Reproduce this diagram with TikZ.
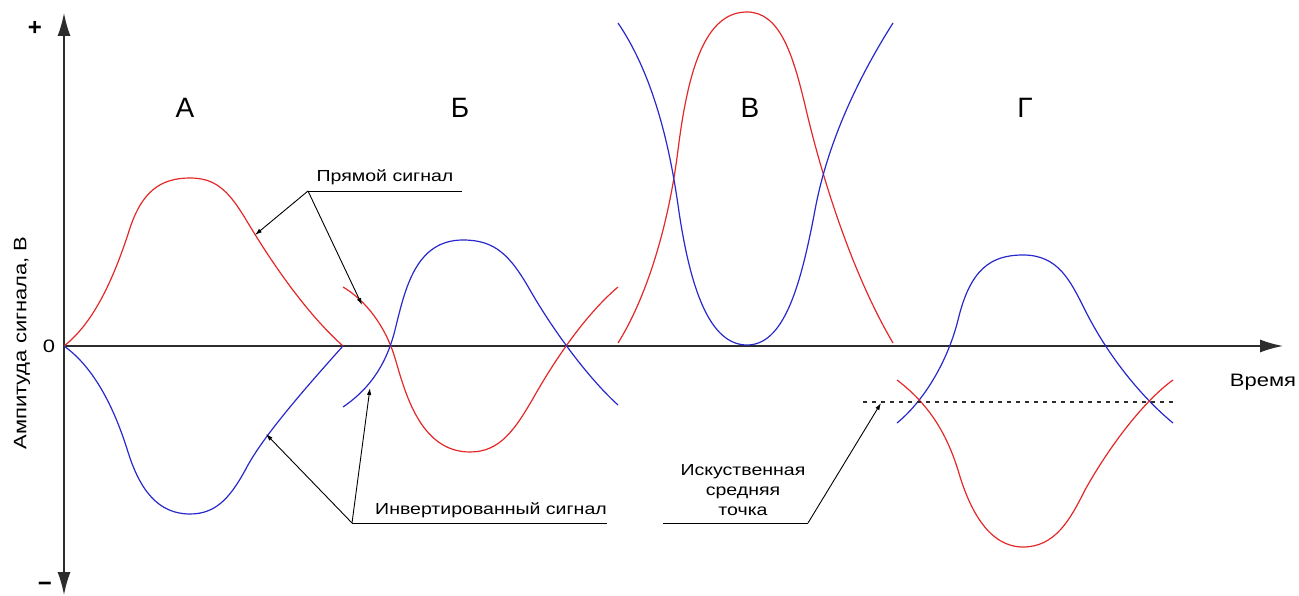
\documentclass[tikz,border=0pt]{standalone}
\usepackage{fontspec}
\setmainfont{Liberation Sans}
\newfontfamily\widesans[FakeStretch=1.22]{Liberation Sans}
\usetikzlibrary{arrows.meta}
\definecolor{sigred}{RGB}{228,40,40}
\definecolor{sigblue}{RGB}{40,40,205}
\definecolor{axgray}{RGB}{45,45,45}
\tikzset{
  axis/.style={line width=1.5pt,axgray},
  redsig/.style={line width=1.2pt,sigred},
  bluesig/.style={line width=1.2pt,sigblue},
  leader/.style={line width=0.9pt,black},
  pointer/.style={leader,-{Latex[length=7pt,width=4.5pt]}},
  lbl/.style={font=\widesans\fontsize{16}{20}\selectfont,inner sep=0pt},
  axlbl/.style={font=\widesans\fontsize{18}{20}\selectfont,inner sep=0pt},
  sign/.style={font=\bfseries\fontsize{24}{24}\selectfont,inner sep=0pt},
  sect/.style={font=\fontsize{28}{30}\selectfont,inner sep=0pt}
}
\begin{document}
\begin{tikzpicture}[x=1pt,y=-1pt]
  \useasboundingbox (0,0) rectangle (1299,596);
  % axes
  \coordinate (O) at (64,346);
  \coordinate (Ytop) at (64,13);
  \coordinate (Ybot) at (64,595);
  \coordinate (Xend) at (1283,346);
  \draw[axis,-{Latex[length=23pt,width=13pt]}] (O)--(Ytop);
  \draw[axis,-{Latex[length=23pt,width=13pt]}] (O)--(Ybot);
  \draw[axis,-{Latex[length=23pt,width=13pt]}] (O)--(Xend);
  \node[sign] (plus) at (35,28) {+};
  \node[sign] (minus) at (45,587) {−};
  \node[axlbl] (zero) at (49,346) {0};
  \node[axlbl,rotate=90] (ylab) at (22,343) {Ампитуда сигнала, В};
  \node[axlbl] (xlab) at (1263,382) {Время};
  % sections
  \node[sect] (A) at (185,108) {А};
  \node[sect] (B) at (460,108) {Б};
  \node[sect] (V) at (750,108) {В};
  \node[sect] (G) at (1025,108) {Г};
  % section A
  \draw[redsig] (64,346) .. controls (95,322) and (115,275) .. (130,228)
    .. controls (142,192) and (160,178) .. (190,178)
    .. controls (215,178) and (228,190) .. (245,218)
    .. controls (270,260) and (305,312) .. (343,346);
  \draw[bluesig] (64,346) .. controls (95,368) and (115,410) .. (128,452)
    .. controls (140,490) and (158,514) .. (190,514)
    .. controls (218,514) and (232,495) .. (248,465)
    .. controls (262,440) and (290,405) .. (343,346);
  % section B
  \draw[redsig] (343,287) .. controls (365,300) and (385,325) .. (395,358)
    .. controls (405,392) and (420,452) .. (470,452)
    .. controls (500,452) and (515,430) .. (535,395)
    .. controls (555,360) and (585,315) .. (618,287);
  \draw[bluesig] (343,407) .. controls (365,392) and (385,370) .. (395,330)
    .. controls (405,290) and (415,240) .. (463,240)
    .. controls (495,240) and (510,255) .. (530,290)
    .. controls (550,325) and (585,375) .. (618,405);
  % section V
  \draw[redsig] (618,343) .. controls (645,300) and (668,230) .. (678,150)
    .. controls (688,70) and (705,12) .. (747,12)
    .. controls (780,12) and (793,55) .. (805,105)
    .. controls (820,170) and (850,270) .. (893,343);
  \draw[bluesig] (618,23) .. controls (650,70) and (668,135) .. (678,205)
    .. controls (690,290) and (710,345) .. (747,345)
    .. controls (783,345) and (800,290) .. (815,210)
    .. controls (828,140) and (860,75) .. (893,23);
  % section G
  \draw[bluesig] (897,423) .. controls (925,400) and (948,360) .. (958,320)
    .. controls (970,270) and (990,255) .. (1023,255)
    .. controls (1058,255) and (1070,280) .. (1085,310)
    .. controls (1110,360) and (1145,400) .. (1173,423);
  \draw[redsig] (897,380) .. controls (930,405) and (947,435) .. (958,470)
    .. controls (970,512) and (990,547) .. (1023,547)
    .. controls (1055,547) and (1070,520) .. (1085,490)
    .. controls (1110,445) and (1145,400) .. (1173,380);
  \coordinate (M1) at (863,402);
  \coordinate (M2) at (1173,402);
  \draw[axgray,line width=1.2pt,dash pattern=on 4pt off 5pt] (M1)--(M2);
  % labels
  \node[lbl,anchor=base] (direct) at (385,182) {Прямой сигнал};
  \coordinate (K1) at (308,191);
  \coordinate (E1) at (462,191);
  \coordinate (T1) at (255,235);
  \coordinate (T2) at (362,305);
  \draw[leader] (K1)--(E1);
  \draw[pointer] (K1)--(T1);
  \draw[pointer] (K1)--(T2);
  \node[lbl,anchor=base] (invert) at (491,514) {Инвертированный сигнал};
  \coordinate (K2) at (352,523);
  \coordinate (E2) at (607,523);
  \coordinate (T3) at (266,434);
  \coordinate (T4) at (370,388);
  \draw[leader] (K2)--(E2);
  \draw[pointer] (K2)--(T3);
  \draw[pointer] (K2)--(T4);
  \node[lbl,align=center] (mid) at (743,490) {Искуственная\\средняя\\точка};
  \coordinate (K3) at (808,523);
  \coordinate (E3) at (663,523);
  \coordinate (T5) at (881,403);
  \draw[leader] (E3)--(K3);
  \draw[pointer] (K3)--(T5);
\end{tikzpicture}
\end{document}
